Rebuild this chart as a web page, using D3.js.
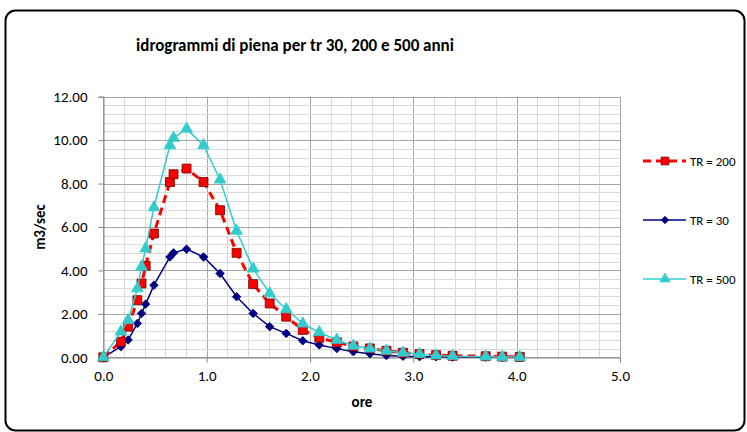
<!DOCTYPE html>
<html>
<head>
<meta charset="utf-8">
<script src="https://cdn.jsdelivr.net/npm/d3@7"></script>
<style>
  html, body { margin: 0; padding: 0; background: #fff; }
  svg { display: block; font-family: Carlito, Calibri, "Liberation Sans", sans-serif; }
</style>
</head>
<body>
<div class="chart"></div>
<script>
// time (hours), shared by the three hydrographs
const ore = [0, 0.17, 0.24, 0.33, 0.37, 0.41, 0.49, 0.645, 0.68, 0.806, 0.97, 1.13, 1.29, 1.45,
    1.61, 1.77, 1.93, 2.09, 2.26, 2.42, 2.58, 2.74, 2.90, 3.06, 3.22, 3.38, 3.70, 3.86, 4.03];

const tr30 = [0, 0.49, 0.80, 1.56, 2.02, 2.45, 3.32, 4.62, 4.81, 4.98, 4.62, 3.86, 2.79, 2.02,
    1.41, 1.10, 0.76, 0.57, 0.40, 0.26, 0.16, 0.08, 0.05, 0.03, 0.02, 0.01, 0.01, 0.00, 0.00];

const tr200 = [0, 0.72, 1.41, 2.63, 3.40, 4.21, 5.70, 8.07, 8.43, 8.69, 8.07, 6.77, 4.81, 3.37,
    2.48, 1.87, 1.26, 0.90, 0.69, 0.50, 0.41, 0.30, 0.21, 0.15, 0.10, 0.07, 0.05, 0.03, 0.02];

const tr500 = [0, 1.18, 1.71, 3.17, 4.17, 5.01, 6.90, 9.76, 10.10, 10.52, 9.76, 8.18, 5.82, 4.08,
    2.94, 2.21, 1.55, 1.15, 0.80, 0.53, 0.40, 0.30, 0.21, 0.15, 0.08, 0.05, 0.03, 0.01, 0.01];

const seriesNames = ['TR = 200', 'TR = 30', 'TR = 500'];
const xTicks = [0, 1, 2, 3, 4, 5];
const yTicks = [0, 2, 4, 6, 8, 10, 12];

const width = 747, height = 432;
const plot = { left: 103.3, right: 620, top: 96.7, bottom: 357.3 };

const svg = d3.select('.chart').append('svg').attr('width', width).attr('height', height);

// chart frame
svg.append('rect').attr('x', 5.5).attr('y', 10.5).attr('width', 739).attr('height', 420)
    .attr('rx', 10).attr('fill', '#fff').attr('stroke', '#000').attr('stroke-width', 2);

const x = d3.scaleLinear().domain([0, 5]).range([plot.left, plot.right]);
const y = d3.scaleLinear().domain([0, 12]).range([plot.bottom, plot.top]);

// grid
const grid = svg.append('g');
grid.selectAll('.vminor').data(d3.range(0, 5.01, 0.2)).enter().append('line')
    .attr('x1', d => Math.round(x(d)) + 0.5).attr('x2', d => Math.round(x(d)) + 0.5)
    .attr('y1', plot.top).attr('y2', plot.bottom)
    .attr('stroke', d => Math.abs(d - Math.round(d)) < 1e-6 ? '#a6a6a6' : '#d9d9d9');
grid.selectAll('.hminor').data(d3.range(0, 12.01, 0.4)).enter().append('line')
    .attr('y1', d => Math.round(y(d)) + 0.5).attr('y2', d => Math.round(y(d)) + 0.5)
    .attr('x1', plot.left).attr('x2', plot.right)
    .attr('stroke', d => Math.abs(d / 2 - Math.round(d / 2)) < 1e-6 ? '#a6a6a6' : '#d9d9d9');

// axes
const yAxis = d3.axisLeft(y).tickValues(yTicks).tickSize(5).tickPadding(11).tickFormat(d3.format('.2f'));
svg.append('g').attr('transform', 'translate(' + (Math.round(plot.left) + 0.5) + ',0)').call(yAxis)
    .call(g => g.select('.domain').attr('stroke', '#868686'))
    .call(g => g.selectAll('line').attr('stroke', '#868686'))
    .call(g => g.selectAll('text').attr('font-size', 15).attr('fill', '#000')
        .attr('font-family', 'Carlito, Calibri, "Liberation Sans", sans-serif'));

const xAxis = d3.axisBottom(x).tickValues(xTicks).tickSize(5).tickPadding(8).tickFormat(d3.format('.1f'));
svg.append('g').attr('transform', 'translate(0,' + (Math.round(plot.bottom) + 0.5) + ')').call(xAxis)
    .call(g => g.select('.domain').attr('stroke', '#868686'))
    .call(g => g.selectAll('line').attr('stroke', '#868686'))
    .call(g => g.selectAll('text').attr('font-size', 15).attr('fill', '#000')
        .attr('font-family', 'Carlito, Calibri, "Liberation Sans", sans-serif'));

// titles
svg.append('text').text('idrogrammi di piena per tr 30, 200 e 500 anni')
    .attr('x', 295).attr('y', 51).attr('text-anchor', 'middle')
    .attr('font-size', 17).attr('font-weight', 'bold');
svg.append('text').text('m3/sec')
    .attr('transform', 'translate(45,' + ((plot.top + plot.bottom) / 2) + ') rotate(-90)')
    .attr('text-anchor', 'middle').attr('font-size', 15).attr('font-weight', 'bold');
svg.append('text').text('ore').attr('x', 362).attr('y', 407)
    .attr('text-anchor', 'middle').attr('font-size', 15).attr('font-weight', 'bold');

const styles = {
    'TR = 200': { values: tr200, color: '#ff0000', width: 3, dash: '8,5', symbol: d3.symbolSquare, size: 80, stroke: '#6b0000', rot: 0 },
    'TR = 30': { values: tr30, color: '#000080', width: 1.5, dash: null, symbol: d3.symbolSquare, size: 36, stroke: '#000080', rot: 45 },
    'TR = 500': { values: tr500, color: '#33cccc', width: 1.5, dash: null, symbol: d3.symbolTriangle, size: 60, stroke: '#33cccc', rot: 0 }
};

const line = d3.line().x(d => x(d[0])).y(d => y(d[1]));
const drawOrder = ['TR = 30', 'TR = 200', 'TR = 500'];

drawOrder.forEach(function (name) {
    const s = styles[name];
    const pts = ore.map((t, i) => [t, s.values[i]]);
    const g = svg.append('g');
    g.append('path').datum(pts).attr('d', line).attr('fill', 'none')
        .attr('stroke', s.color).attr('stroke-width', s.width)
        .attr('stroke-dasharray', s.dash);
    g.selectAll('path.m').data(pts).enter().append('path').attr('class', 'm')
        .attr('d', d3.symbol().type(s.symbol).size(s.size))
        .attr('transform', d => 'translate(' + x(d[0]) + ',' + y(d[1]) + ') rotate(' + s.rot + ')')
        .attr('fill', s.color).attr('stroke', s.stroke).attr('stroke-width', 0.8);
});

// legend
const legend = svg.append('g').attr('transform', 'translate(643,0)');
seriesNames.forEach(function (name, i) {
    const s = styles[name];
    const ly = 161 + i * 59;
    legend.append('line').attr('x1', 0).attr('x2', 43).attr('y1', ly).attr('y2', ly)
        .attr('stroke', s.color).attr('stroke-width', s.width).attr('stroke-dasharray', s.dash);
    legend.append('path').attr('d', d3.symbol().type(s.symbol).size(s.size * 0.75))
        .attr('transform', 'translate(22,' + ly + ') rotate(' + s.rot + ')')
        .attr('fill', s.color).attr('stroke', s.stroke).attr('stroke-width', 0.8);
    legend.append('text').text(name).attr('x', 47).attr('y', ly + 4.5).attr('font-size', 13);
});
</script>
</body>
</html>
